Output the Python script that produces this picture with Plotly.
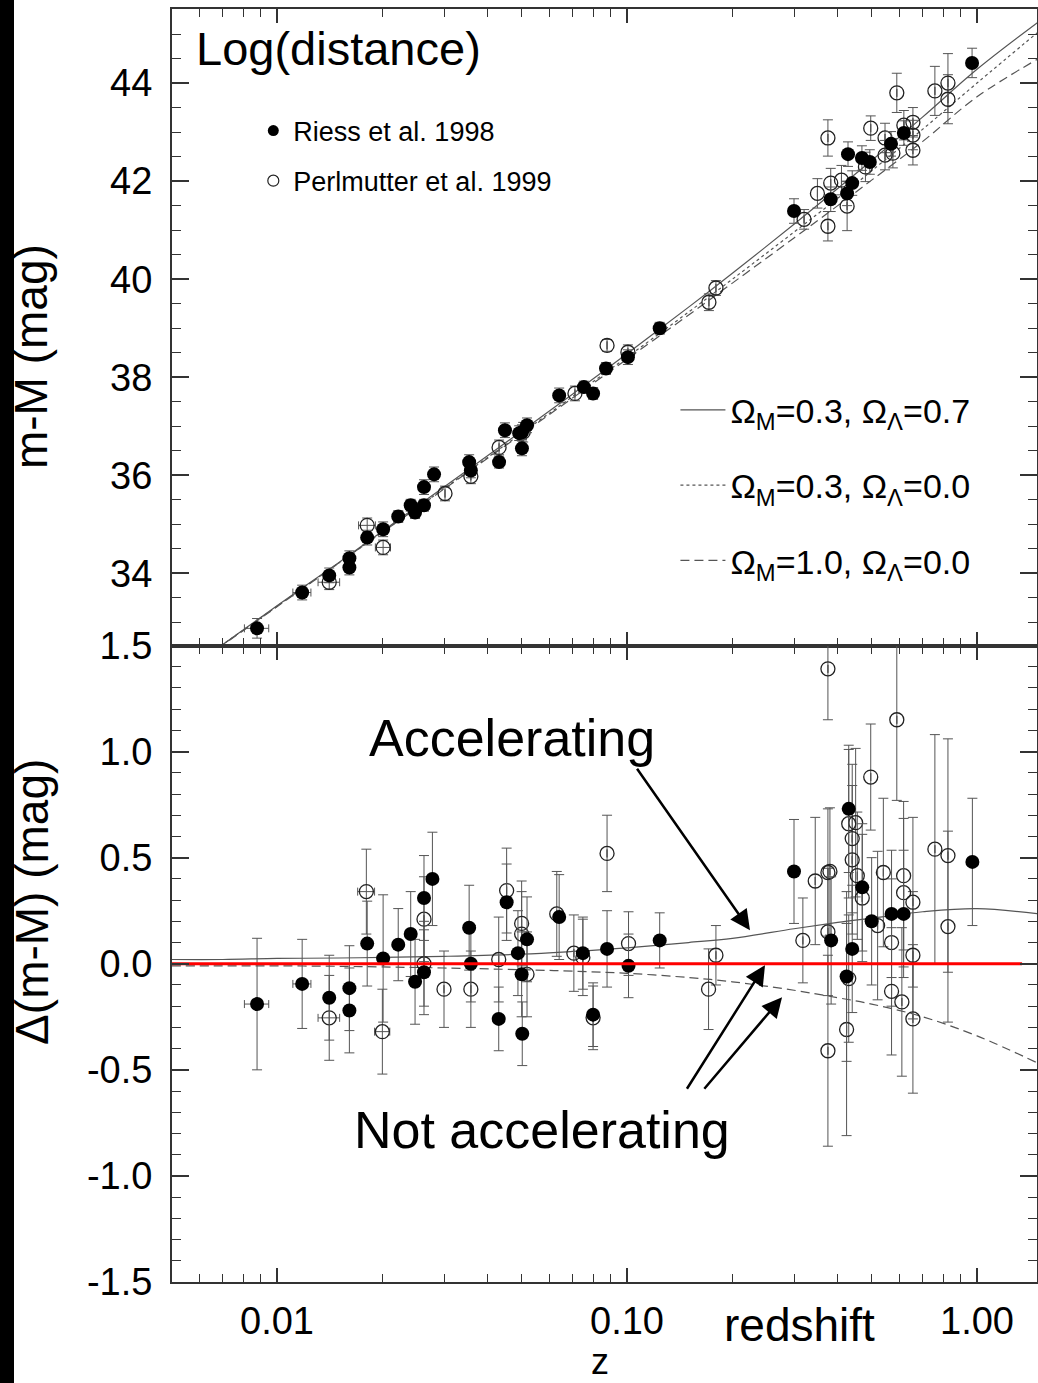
import plotly.graph_objects as go

# ---------------- data ----------------
# Top panel: distance modulus m-M vs redshift z
riess_top_z = [0.00877, 0.0118, 0.0141, 0.0161, 0.0161, 0.0181, 0.0201, 0.0222, 0.0241, 0.0248,
               0.0263, 0.0263, 0.0281, 0.0354, 0.0358, 0.0431, 0.0448, 0.0492, 0.0501, 0.0501,
               0.0518, 0.064, 0.0753, 0.080, 0.0871, 0.1006, 0.124, 0.300, 0.382, 0.4255,
               0.44, 0.428, 0.469, 0.494, 0.568, 0.618, 0.968]
riess_top_mu = [32.88, 33.61, 33.96, 34.31, 34.12, 34.73, 34.90, 35.16, 35.39, 35.24,
                35.39, 35.76, 36.02, 36.27, 36.10, 36.27, 36.92, 36.86, 36.88, 36.55,
                37.02, 37.63, 37.80, 37.67, 38.18, 38.41, 39.00, 41.39, 41.63, 41.75,
                41.96, 42.55, 42.47, 42.39, 42.76, 42.98, 44.41]
riess_top_err = [0.20, 0.15, 0.15, 0.15, 0.15, 0.15, 0.15, 0.12, 0.12, 0.12,
                 0.12, 0.15, 0.15, 0.15, 0.15, 0.12, 0.15, 0.15, 0.15, 0.15,
                 0.15, 0.15, 0.12, 0.12, 0.12, 0.15, 0.12, 0.25, 0.25, 0.25,
                 0.25, 0.25, 0.25, 0.25, 0.25, 0.25, 0.30]
riess_top_zerr = [0.0007, 0.0007] + [0.0] * 35

perl_top_z = [0.0141, 0.0181, 0.0201, 0.0302, 0.0358, 0.0431, 0.0505, 0.071, 0.0877, 0.1006,
              0.1714, 0.1795, 0.3206, 0.35, 0.375, 0.375, 0.382, 0.41, 0.4255, 0.48,
              0.497, 0.546, 0.546, 0.575, 0.59, 0.618, 0.656, 0.656, 0.656, 0.758,
              0.826, 0.826]
perl_top_mu = [33.82, 34.98, 34.53, 35.63, 35.98, 36.57, 36.88, 37.67, 38.65, 38.51,
               39.53, 39.82, 41.22, 41.75, 42.88, 41.08, 41.96, 42.02, 41.49, 42.29,
               43.08, 42.88, 42.53, 42.57, 43.80, 43.14, 43.20, 42.94, 42.63, 43.84,
               44.00, 43.67]
perl_top_err = [0.15, 0.15, 0.15, 0.15, 0.15, 0.15, 0.20, 0.15, 0.12, 0.15,
                0.17, 0.15, 0.20, 0.30, 0.37, 0.30, 0.30, 0.30, 0.50, 0.30,
                0.25, 0.30, 0.30, 0.30, 0.40, 0.30, 0.30, 0.30, 0.30, 0.50,
                0.60, 0.50]
perl_top_zerr = [0.001, 0.001, 0.001] + [0.0] * 29

# Bottom panel: residual Delta(m-M) vs z
riess_bot_z = [0.00877, 0.0118, 0.0141, 0.0161, 0.0161, 0.0181, 0.0201, 0.0222, 0.0241, 0.0248,
               0.0263, 0.0263, 0.0278, 0.0354, 0.0358, 0.043, 0.0453, 0.0488, 0.050, 0.0502,
               0.0518, 0.064, 0.0748, 0.080, 0.0877, 0.101, 0.124, 0.30, 0.383, 0.424,
               0.43, 0.44, 0.47, 0.50, 0.57, 0.617, 0.97]
riess_bot_d = [-0.19, -0.095, -0.16, -0.115, -0.22, 0.095, 0.025, 0.09, 0.14, -0.085,
               0.31, -0.04, 0.40, 0.17, 0.0, -0.26, 0.29, 0.05, -0.05, -0.33,
               0.115, 0.22, 0.05, -0.24, 0.07, -0.01, 0.11, 0.435, 0.11, -0.06,
               0.73, 0.07, 0.36, 0.20, 0.235, 0.235, 0.48]
riess_bot_err = [0.31, 0.21, 0.20, 0.20, 0.20, 0.20, 0.30, 0.17, 0.20, 0.20,
                 0.20, 0.20, 0.22, 0.20, 0.18, 0.15, 0.18, 0.20, 0.20, 0.15,
                 0.20, 0.20, 0.17, 0.15, 0.18, 0.15, 0.13, 0.245, 0.30, 0.40,
                 0.30, 0.30, 0.30, 0.30, 0.30, 0.30, 0.30]
riess_bot_zerr = [0.0007, 0.0007] + [0.0] * 35

perl_bot_z = [0.0141, 0.018, 0.020, 0.0263, 0.0263, 0.030, 0.0358, 0.043, 0.0453, 0.050,
              0.050, 0.0518, 0.063, 0.0705, 0.0748, 0.080, 0.0877, 0.101, 0.171, 0.1795,
              0.318, 0.345, 0.375, 0.375, 0.38, 0.375, 0.375, 0.424, 0.43, 0.45,
              0.44, 0.44, 0.455, 0.47, 0.497, 0.43, 0.52, 0.54, 0.57, 0.57,
              0.59, 0.617, 0.617, 0.61, 0.656, 0.656, 0.656, 0.758, 0.826, 0.826]
perl_bot_d = [-0.255, 0.34, -0.32, 0.21, 0.0, -0.12, -0.12, 0.02, 0.345, 0.19,
              0.14, -0.05, 0.235, 0.05, 0.03, -0.255, 0.52, 0.095, -0.12, 0.04,
              0.11, 0.39, 1.39, 0.43, 0.435, 0.15, -0.41, -0.31, 0.66, 0.665,
              0.59, 0.49, 0.415, 0.31, 0.88, -0.07, 0.18, 0.43, 0.10, -0.13,
              1.15, 0.415, 0.335, -0.18, 0.29, 0.04, -0.26, 0.54, 0.51, 0.175]
perl_bot_err = [0.20, 0.20, 0.20, 0.20, 0.20, 0.18, 0.18, 0.20, 0.20, 0.20,
                0.20, 0.20, 0.20, 0.18, 0.18, 0.15, 0.18, 0.15, 0.19, 0.14,
                0.20, 0.30, 0.24, 0.30, 0.30, 0.30, 0.45, 0.50, 0.35, 0.35,
                0.35, 0.35, 0.30, 0.30, 0.25, 0.30, 0.35, 0.35, 0.30, 0.30,
                0.38, 0.35, 0.35, 0.35, 0.40, 0.30, 0.35, 0.54, 0.55, 0.45]
perl_bot_zerr = [0.001, 0.001, 0.001] + [0.0] * 47

# Model curves
model_z = [0.005, 0.007, 0.01, 0.015, 0.02, 0.03, 0.05, 0.07, 0.1, 0.15, 0.2, 0.3, 0.4, 0.5, 0.7, 1.0, 1.5]
mu_lcdm = [31.82, 32.55, 33.34, 34.22, 34.86, 35.76, 36.90, 37.66, 38.48, 39.43, 40.12, 41.12, 41.85, 42.42, 43.31, 44.28, 45.25]
mu_open = [31.82, 32.55, 33.33, 34.21, 34.84, 35.73, 36.86, 37.61, 38.41, 39.33, 40.00, 40.96, 41.65, 42.21, 43.06, 44.00, 45.05]
mu_eds = [31.82, 32.54, 33.32, 34.21, 34.84, 35.72, 36.84, 37.58, 38.37, 39.27, 39.92, 40.84, 41.50, 42.02, 42.81, 43.72, 44.50]
d_lcdm = [0.02, 0.02, 0.025, 0.027, 0.03, 0.035, 0.045, 0.058, 0.075, 0.10, 0.12, 0.165, 0.195, 0.215, 0.245, 0.26, 0.235]
d_open = [0.0, 0.0, 0.0, 0.0, 0.0, 0.0, 0.0, 0.0, 0.0, 0.0, 0.0, 0.0, 0.0, 0.0, 0.0, 0.0, 0.0]
d_eds = [-0.01, -0.01, -0.01, -0.012, -0.015, -0.02, -0.028, -0.035, -0.045, -0.065, -0.085, -0.125, -0.16, -0.19, -0.25, -0.34, -0.47]

model_names = ["Ω<sub>M</sub>=0.3, Ω<sub>Λ</sub>=0.7",
               "Ω<sub>M</sub>=0.3, Ω<sub>Λ</sub>=0.0",
               "Ω<sub>M</sub>=1.0, Ω<sub>Λ</sub>=0.0"]
model_dash = ["solid", "dot", "9px,5px"]

zero_line_z = [0.005, 1.345]
zero_line_d = [0.0, 0.0]

x_tickvals = [0.01, 0.1, 1.0]
x_ticktext = ["0.01", "0.10", "1.00"]
x_minor = [0.006, 0.007, 0.008, 0.009, 0.02, 0.03, 0.04, 0.05, 0.06, 0.07, 0.08, 0.09,
           0.2, 0.3, 0.4, 0.5, 0.6, 0.7, 0.8, 0.9]
top_y_tickvals = [34, 36, 38, 40, 42, 44]
bot_y_tickvals = [-1.5, -1.0, -0.5, 0.0, 0.5, 1.0, 1.5]
bot_y_ticktext = ["-1.5", "-1.0", "-0.5", "0.0", "0.5", "1.0", "1.5"]

# arrow tips (log10 z, Delta) and tail offsets (px)
arrow_tip_logz = [-0.6486, -0.6057, -0.557]
arrow_tip_d = [0.158, -0.007, -0.158]
arrow_ax = [-114, -79, -79]
arrow_ay = [-163, 125, 93]

# ---------------- figure ----------------
FONT = "Liberation Sans, Arial, Helvetica, sans-serif"
AXC = "#333333"
ERRC = "#555555"

fig = go.Figure()


def err(arr, w=5):
    return dict(type="data", array=arr, visible=True, thickness=1, width=w, color=ERRC)


# model lines
for i, (mu, d) in enumerate(zip([mu_lcdm, mu_open, mu_eds], [d_lcdm, d_open, d_eds])):
    fig.add_trace(go.Scatter(x=model_z, y=mu, mode="lines", xaxis="x", yaxis="y",
                             line=dict(color="#555555", width=1.2, dash=model_dash[i], shape="spline"),
                             name=model_names[i], legend="legend2", legendgroup="m%d" % i,
                             showlegend=True))
    fig.add_trace(go.Scatter(x=model_z, y=d, mode="lines", xaxis="x2", yaxis="y2",
                             line=dict(color="#555555", width=1.2, dash=model_dash[i], shape="spline"),
                             showlegend=False))

open_marker = dict(symbol="circle-open", size=14, color="#222222", line=dict(width=1.3, color="#222222"))
fill_marker = dict(symbol="circle", size=14, color="black")

# top panel points
fig.add_trace(go.Scatter(x=perl_top_z, y=perl_top_mu, mode="markers", xaxis="x", yaxis="y",
                         marker=open_marker, error_y=err(perl_top_err), error_x=err(perl_top_zerr, 4),
                         showlegend=False))
fig.add_trace(go.Scatter(x=riess_top_z, y=riess_top_mu, mode="markers", xaxis="x", yaxis="y",
                         marker=fill_marker, error_y=err(riess_top_err), error_x=err(riess_top_zerr, 4),
                         showlegend=False))
# bottom panel points
fig.add_trace(go.Scatter(x=perl_bot_z, y=perl_bot_d, mode="markers", xaxis="x2", yaxis="y2",
                         marker=open_marker, error_y=err(perl_bot_err), error_x=err(perl_bot_zerr, 4),
                         showlegend=False))
fig.add_trace(go.Scatter(x=riess_bot_z, y=riess_bot_d, mode="markers", xaxis="x2", yaxis="y2",
                         marker=fill_marker, error_y=err(riess_bot_err), error_x=err(riess_bot_zerr, 4),
                         showlegend=False))

# red zero line
fig.add_trace(go.Scatter(x=zero_line_z, y=zero_line_d, mode="lines", xaxis="x2", yaxis="y2",
                         line=dict(color="#ff0000", width=3), showlegend=False))

# legend-only entries for the data sets
fig.add_trace(go.Scatter(x=[None], y=[None], mode="markers", xaxis="x", yaxis="y",
                         marker=dict(symbol="circle", size=11, color="black"),
                         name="Riess et al. 1998", legend="legend", legendgroup="r"))
fig.add_trace(go.Scatter(x=[None], y=[None], mode="markers", xaxis="x", yaxis="y",
                         marker=dict(symbol="circle-open", size=11, color="#222222", line=dict(width=1.2)),
                         name="Perlmutter et al. 1999", legend="legend", legendgroup="p"))

xcommon = dict(type="log", range=[-2.3, 0.1714], showline=True, linecolor=AXC, linewidth=2,
               mirror="allticks", ticks="inside", ticklen=14, tickwidth=1.5, tickcolor=AXC,
               tickmode="array", tickvals=x_tickvals, ticktext=x_ticktext, automargin=False,
               minor=dict(tickmode="array", tickvals=x_minor, ticks="inside", ticklen=8,
                          tickwidth=1.2, tickcolor=AXC),
               showgrid=False, zeroline=False)

fig.update_layout(
    width=1038, height=1383,
    margin=dict(l=172, r=1, t=9, b=101, autoexpand=False),
    paper_bgcolor="white", plot_bgcolor="white",
    font=dict(family=FONT, color="black"),
    xaxis=dict(**xcommon, domain=[0, 1], anchor="y", showticklabels=False),
    xaxis2=dict(**xcommon, domain=[0, 1], anchor="y2", matches="x", showticklabels=True,
                tickfont=dict(size=38, family=FONT, color="black"), ticklabelstandoff=4),
    yaxis=dict(domain=[0.5, 1], anchor="x", range=[32.53, 45.51], showline=True, linecolor=AXC,
               linewidth=2, mirror="allticks", ticks="inside", ticklen=17, tickwidth=1.5,
               tickcolor=AXC, tickmode="array", tickvals=top_y_tickvals, automargin=False,
               tickfont=dict(size=38, family=FONT, color="black"), ticklabelstandoff=10,
               minor=dict(tickmode="linear", tick0=0, dtick=0.5, ticks="inside", ticklen=9,
                          tickwidth=1.2, tickcolor=AXC),
               showgrid=False, zeroline=False),
    yaxis2=dict(domain=[0, 0.5], anchor="x2", range=[-1.5, 1.5], showline=True, linecolor=AXC,
                linewidth=2, mirror="allticks", ticks="inside", ticklen=17, tickwidth=1.5,
                tickcolor=AXC, tickmode="array", tickvals=bot_y_tickvals, ticktext=bot_y_ticktext,
                tickfont=dict(size=38, family=FONT, color="black"), ticklabelstandoff=10,
                automargin=False,
                minor=dict(tickmode="linear", tick0=0, dtick=0.1, ticks="inside", ticklen=9,
                           tickwidth=1.2, tickcolor=AXC),
                showgrid=False, zeroline=False),
    legend=dict(x=0.094, y=0.9234, xanchor="left", yanchor="top", bgcolor="rgba(0,0,0,0)",
                font=dict(size=27, family=FONT, color="black"), traceorder="grouped",
                tracegroupgap=12),
    legend2=dict(x=0.582, y=0.7075, xanchor="left", yanchor="top", bgcolor="rgba(0,0,0,0)",
                 font=dict(size=34, family=FONT, color="black"), traceorder="grouped",
                 tracegroupgap=28, itemwidth=45),
    showlegend=True,
)

# black strip at the left edge
fig.add_shape(type="rect", xref="paper", yref="paper", x0=-0.2, x1=-172 / 865 + 14 / 865,
              y0=-0.08, y1=1.01, fillcolor="black", line=dict(width=0), layer="above")

ann = []
ann.append(dict(text="Log(distance)", xref="paper", yref="paper", x=0.0254, y=0.9686,
                xanchor="left", yanchor="middle", showarrow=False, font=dict(size=47, family=FONT)))
ann.append(dict(text="m-M (mag)", xref="paper", yref="paper", x=-0.163, y=0.7266, textangle=-90,
                xanchor="center", yanchor="middle", showarrow=False, font=dict(size=46, family=FONT)))
ann.append(dict(text="Δ(m-M) (mag)", xref="paper", yref="paper", x=-0.162, y=0.2985, textangle=-90,
                xanchor="center", yanchor="middle", showarrow=False, font=dict(size=46, family=FONT)))
ann.append(dict(text="Accelerating", xref="paper", yref="paper", x=0.393, y=0.4273,
                xanchor="center", yanchor="middle", showarrow=False, font=dict(size=52, family=FONT)))
ann.append(dict(text="Not accelerating", xref="paper", yref="paper", x=0.4277, y=0.1194,
                xanchor="center", yanchor="middle", showarrow=False, font=dict(size=52, family=FONT)))
ann.append(dict(text="redshift", xref="paper", yref="paper", x=0.726, y=-0.0338,
                xanchor="center", yanchor="middle", showarrow=False, font=dict(size=46, family=FONT)))
ann.append(dict(text="z", xref="paper", yref="paper", x=0.4948, y=-0.0791,
                xanchor="center", yanchor="bottom", showarrow=False, borderpad=0,
                font=dict(size=36, family=FONT)))
for lx, ly, ax, ay in zip(arrow_tip_logz, arrow_tip_d, arrow_ax, arrow_ay):
    ann.append(dict(text="", xref="x2", yref="y2", x=lx, y=ly, ax=ax, ay=ay, showarrow=True,
                    arrowhead=2, arrowsize=1.6, arrowwidth=2.5, arrowcolor="black"))
fig.update_layout(annotations=ann)

fig.write_html("out.html")
